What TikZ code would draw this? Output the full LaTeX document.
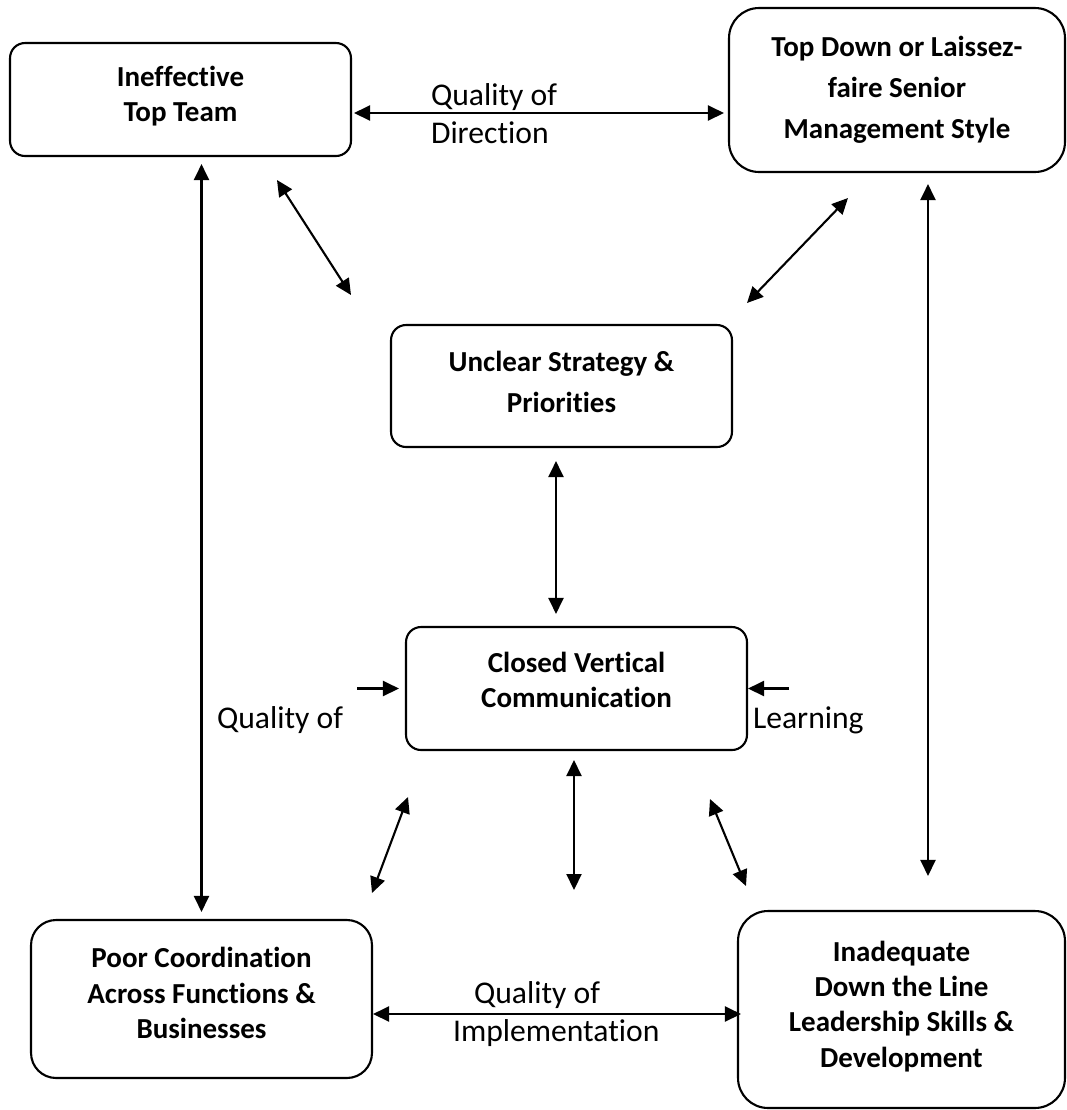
\documentclass[tikz,border=0pt]{standalone}
\usepackage{fontspec}
\setmainfont[Ligatures=NoCommon]{Carlito}
\usetikzlibrary{arrows.meta}

\tikzset{
  box/.style={draw, rounded corners=#1, inner sep=0pt},
  box/.default=0.3cm,
  boxtext/.style={align=center, inner sep=0pt, font=\bfseries\fontsize{16.5}{20}\selectfont},
  widetext/.style={boxtext, font=\bfseries\fontsize{16.5}{23.3}\selectfont},
  lbl/.style={anchor=west, align=left, inner sep=0pt, font=\fontsize{18}{21.6}\selectfont},
}

\begin{document}
\begin{tikzpicture}[x=0.02cm, y=-0.02cm, line width=1.2pt, line join=round, >={Triangle[length=0.32cm,width=0.3cm]}]
  \useasboundingbox (0,0) rectangle (1067,1110);
  % the six boxes
  \node[box, minimum width=6.82cm, minimum height=2.26cm] (top) at (180.5,99.5) {};
  \node[box=0.6cm, minimum width=6.72cm, minimum height=3.28cm] (senior) at (897,90) {};
  \node[box, minimum width=6.82cm, minimum height=2.44cm] (strat) at (561.5,386) {};
  \node[box, minimum width=6.82cm, minimum height=2.46cm] (comm) at (576.5,688.5) {};
  \node[box=0.5cm, minimum width=6.82cm, minimum height=3.16cm] (coord) at (201.5,999) {};
  \node[box=0.6cm, minimum width=6.54cm, minimum height=3.94cm] (lead) at (901.5,1009.5) {};
  % their texts
  \node[boxtext] (top-t) at ([yshift=0.06cm]top.center) {Ineffective\\Top Team};
  \node[widetext] (senior-t) at (senior.center) {Top Down or Laissez-\\faire Senior\\Management Style};
  \node[widetext] (strat-t) at ([yshift=0.08cm]strat.center) {Unclear Strategy \&\\Priorities};
  \node[boxtext] (comm-t) at ([yshift=0.18cm]comm.center) {Closed Vertical\\Communication};
  \node[boxtext] (coord-t) at ([yshift=0.12cm]coord.center) {Poor Coordination\\Across Functions \&\\Businesses};
  \node[boxtext] (lead-t) at ([yshift=0.06cm]lead.center) {Inadequate\\Down the Line\\Leadership Skills \&\\Development};

  % labels
  \node[lbl] (dir) at (430,114) {Quality of\\Direction};
  \node[lbl] (impl) at (452,1014) {\hspace*{0.42cm}Quality of\\Implementation};
  \node[lbl] (qual) at (216,720) {Quality of};
  \node[lbl] (learn) at (752,720) {Learning};

  % free ends of the slanted and open arrows
  \coordinate (ts1) at (277,180);  \coordinate (ts2) at (351,295);
  \coordinate (ss1) at (848,198);  \coordinate (ss2) at (747,303);
  \coordinate (cc1) at (408,797);  \coordinate (cc2) at (372,893);
  \coordinate (cl1) at (710,799);  \coordinate (cl2) at (746,886);
  \coordinate (cb1) at (574,760);  \coordinate (cb2) at (574,890);
  \coordinate (qin) at (357,688.5);
  \coordinate (lin) at (789,688.5);

  % connectors
  \draw[<->, shorten <=0.04cm, shorten >=0.08cm] (top.east |- 0,113) -- (senior.west |- 0,113);
  \draw[<->, shorten <=0.14cm, shorten >=0.14cm] (top.south -| coord.north) -- (coord.north);
  \draw[<->, shorten <=0.22cm, shorten >=0.68cm] (senior.south -| 928,0) -- (lead.north -| 928,0);
  \draw[<->] (ts1) -- (ts2);
  \draw[<->] (ss1) -- (ss2);
  \draw[<->, shorten <=0.26cm, shorten >=0.24cm] (strat.south -| 556,0) -- (comm.north -| 556,0);
  \draw[->, shorten >=0.12cm] (qin) -- (comm.west);
  \draw[->] (lin) -- (comm.east);
  \draw[<->] (cc1) -- (cc2);
  \draw[<->] (cb1) -- (cb2);
  \draw[<->] (cl1) -- (cl2);
  \draw[<->, shorten >=-0.08cm] (coord.east |- 0,1014) -- (lead.west |- 0,1014);
\end{tikzpicture}
\end{document}
